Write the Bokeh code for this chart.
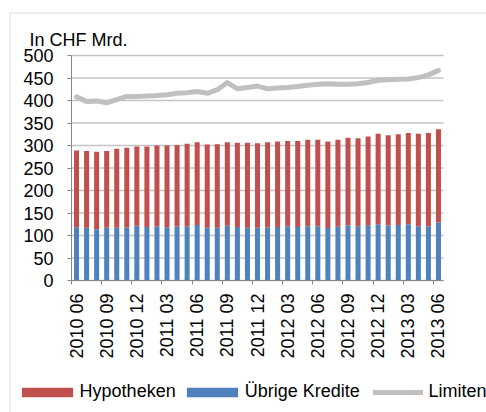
from bokeh.plotting import figure
from bokeh.models import (ColumnDataSource, Range1d, FixedTicker, Legend, LegendItem,
                          Label, BoxAnnotation)
from bokeh.embed import file_html
from bokeh.resources import INLINE

months = [
    "2010 06", "2010 07", "2010 08", "2010 09", "2010 10", "2010 11", "2010 12",
    "2011 01", "2011 02", "2011 03", "2011 04", "2011 05", "2011 06", "2011 07",
    "2011 08", "2011 09", "2011 10", "2011 11", "2011 12", "2012 01", "2012 02",
    "2012 03", "2012 04", "2012 05", "2012 06", "2012 07", "2012 08", "2012 09",
    "2012 10", "2012 11", "2012 12", "2013 01", "2013 02", "2013 03", "2013 04",
    "2013 05", "2013 06",
]
hypotheken = [170.5, 171, 172, 171, 176, 177, 176.5, 179, 179.5, 181.5, 181, 183.5,
              183.5, 184.5, 185.5, 185.5, 187, 188.5, 188, 189, 190, 189.5, 191, 192.5,
              192.5, 192.5, 193.5, 195, 195.5, 197, 201, 201, 201.5, 203, 205.5, 207.5, 207]
uebrige = [118.5, 117, 114, 117, 117, 118, 121.5, 119, 120.5, 118.5, 120, 120.5,
           123.5, 117.5, 117.5, 121.5, 119, 117.5, 117, 118, 119, 120.5, 119, 120.5,
           120.5, 116.5, 119.5, 122, 120.5, 123, 125, 122, 123.5, 125, 120.5, 120.5, 129]
limiten = [408, 398, 399, 395, 402, 409, 409, 410, 411, 413, 416, 417, 420, 416, 424,
           440, 426, 429, 432, 426, 428, 429, 431, 434, 436, 437, 436, 436, 437, 440,
           445, 446, 447, 448, 451, 457, 467]
y_ticks = [0, 50, 100, 150, 200, 250, 300, 350, 400, 450, 500]
label_every = 3

FONT = "Liberation Sans"
RED = "#C0504D"
BLUE = "#4F81BD"
GREY = "#C0C0C0"
AXIS = "#878787"
GRID = "#C4C4C4"

# canvas layout (pixels): plot area spans x 71..443, y 55..280
W, H = 486, 412
PL, PR, PT, PB = 71, 443, 55, 280
n = len(months)
ymax = 500
xpp = (PR - PL) / n            # pixels per category
ypp = (PB - PT) / ymax         # pixels per unit


def px2x(px):
    return -0.5 + (px - PL) / xpp


def px2y(py):
    return (PB - py) / ypp


x = list(range(n))
src = ColumnDataSource(dict(x=x, uebrige=uebrige, hypotheken=hypotheken, limiten=limiten))

p = figure(width=W, height=H,
           x_range=Range1d(px2x(0), px2x(W)), y_range=Range1d(px2y(H), px2y(0)),
           output_backend="svg", toolbar_location=None, min_border=0)
p.outline_line_color = None
p.background_fill_color = "white"
p.border_fill_color = "white"
p.xgrid.visible = False
p.ygrid.visible = False

# horizontal gridlines across the plot area
p.segment(x0=-0.5, x1=px2x(PR), y0=y_ticks, y1=y_ticks, line_color=GRID, line_width=1.3)

bars = p.vbar_stack(["uebrige", "hypotheken"], x="x", width=0.5, color=[BLUE, RED],
                    line_color=None, source=src)
line = p.line("x", "limiten", source=src, line_width=5, line_color=GREY,
              line_cap="round", line_join="round")

major = [i for i in x if i % label_every == 0]
minor = [i - 0.5 for i in major]
xa = p.xaxis[0]
xa.fixed_location = 0
xa.bounds = (-0.5, n - 0.5)
xa.ticker = FixedTicker(ticks=major, minor_ticks=minor)
xa.major_label_overrides = {i: months[i] for i in major}
xa.major_label_orientation = 3.14159265 / 2
xa.major_tick_out = 0
xa.major_tick_in = 0
xa.minor_tick_out = 4
xa.minor_tick_in = 0
xa.minor_tick_line_color = AXIS
xa.axis_line_color = AXIS
xa.major_label_standoff = 9
xa.major_label_text_font = FONT
xa.major_label_text_font_size = "18px"
xa.major_label_text_color = "black"

ya = p.yaxis[0]
ya.fixed_location = -0.5
ya.bounds = (0, ymax)
ya.ticker = FixedTicker(ticks=y_ticks)
ya.major_tick_out = 4
ya.major_tick_in = 0
ya.major_tick_line_color = AXIS
ya.minor_tick_line_color = None
ya.axis_line_color = AXIS
ya.major_label_standoff = 14
ya.major_label_text_font = FONT
ya.major_label_text_font_size = "18px"
ya.major_label_text_color = "black"

title = Label(x=29, y=H - 39.5, x_units="screen", y_units="screen", text="In CHF Mrd.",
              text_font=FONT, text_font_size="18px", text_color="black",
              text_baseline="alphabetic")
p.add_layout(title)

# outer chart-area border (left and top edges visible)
p.add_layout(BoxAnnotation(left=px2x(9.5), top=px2y(12.5), right=px2x(W + 50),
                           bottom=px2y(H + 50), fill_alpha=0, line_color=AXIS,
                           line_width=1))

common = dict(orientation="horizontal", padding=0, margin=0, border_line_color=None,
              background_fill_alpha=0, label_text_font=FONT, label_text_font_size="18px",
              label_text_color="black", label_height=20, glyph_height=12)
leg1 = Legend(items=[LegendItem(label="Hypotheken", renderers=[bars[1]]),
                     LegendItem(label="Übrige Kredite", renderers=[bars[0]])],
              location=(14.6, 10), glyph_width=64, label_standoff=1, spacing=4, **common)
leg2 = Legend(items=[LegendItem(label="Limiten", renderers=[line])],
              location=(372.5, 10), glyph_width=50, label_standoff=6, **common)
p.add_layout(leg1, "center")
p.add_layout(leg2, "center")

open("out.html", "w").write(file_html(p, INLINE))
